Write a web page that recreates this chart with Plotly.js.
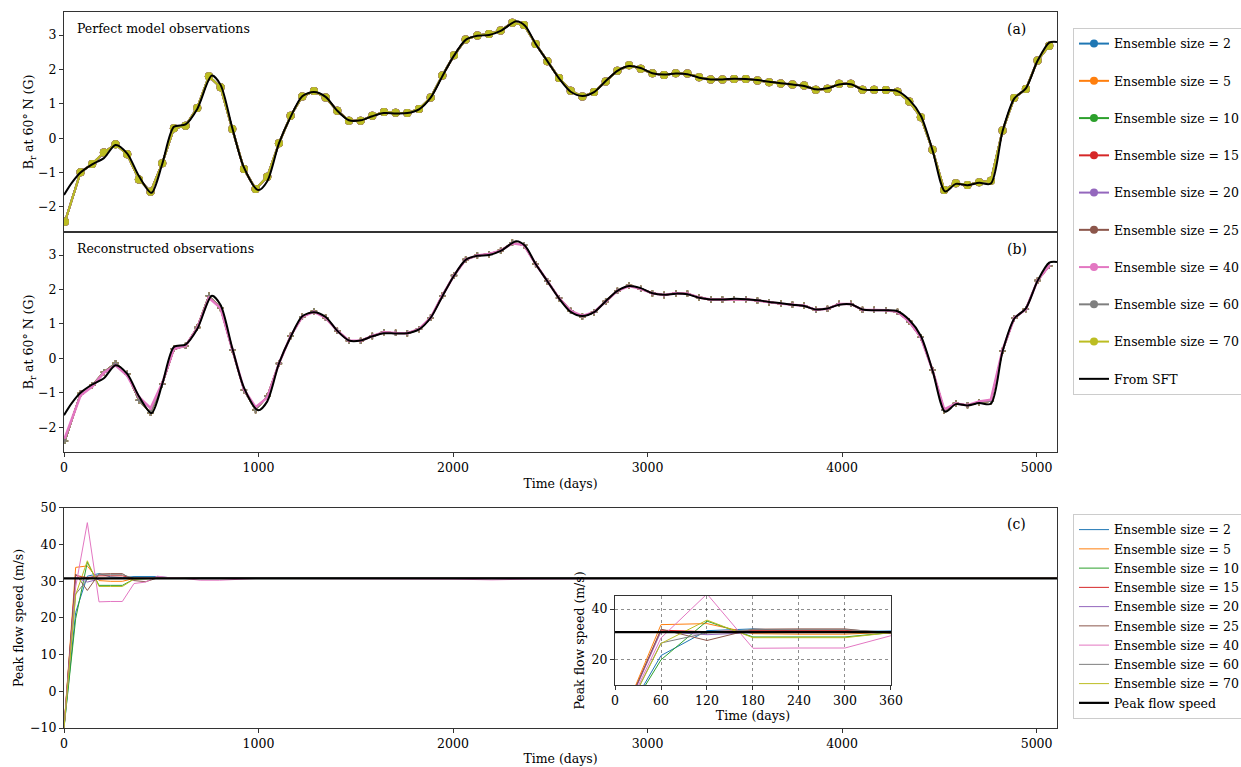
<!DOCTYPE html>
<html>
<head>
<meta charset="utf-8">
<script src="https://cdn.plot.ly/plotly-3.0.1.min.js"></script>
<style>html,body{margin:0;padding:0;background:#fff}#chart{width:1241px;height:767px}</style>
</head>
<body>
<div id="chart"></div>
<script>
// ---------- data ----------
const ensembleSizes = [2, 5, 10, 15, 20, 25, 40, 60, 70];
const ensembleColors = ['#1f77b4','#ff7f0e','#2ca02c','#d62728','#9467bd','#8c564b','#e377c2','#7f7f7f','#bcbd22'];

// observation times (days)
const obsDays = [5, 85, 145, 205, 265, 325, 385, 445, 505, 565,
  625, 685, 745, 805, 865, 925, 985, 1045, 1105, 1165,
  1225, 1285, 1345, 1405, 1465, 1525, 1585, 1645, 1705, 1765,
  1825, 1885, 1945, 2005, 2065, 2125, 2185, 2245, 2305, 2365,
  2425, 2485, 2545, 2605, 2665, 2725, 2785, 2845, 2905, 2965,
  3025, 3085, 3145, 3205, 3265, 3325, 3385, 3445, 3505, 3565,
  3625, 3685, 3745, 3805, 3865, 3925, 3985, 4045, 4105, 4165,
  4225, 4285, 4345, 4405, 4465, 4525, 4585, 4645, 4705, 4765,
  4825, 4885, 4945, 5005, 5065];

// (a) perfect model observations
const perfectObs = [-2.43, -0.99, -0.75, -0.42, -0.18, -0.47, -1.20, -1.56, -0.73, 0.29,
  0.36, 0.88, 1.80, 1.48, 0.27, -0.90, -1.48, -1.12, -0.15, 0.65,
  1.21, 1.37, 1.18, 0.80, 0.51, 0.51, 0.65, 0.76, 0.74, 0.73,
  0.85, 1.18, 1.82, 2.41, 2.87, 2.99, 3.03, 3.13, 3.36, 3.29,
  2.74, 2.24, 1.75, 1.38, 1.21, 1.34, 1.65, 1.96, 2.12, 2.02,
  1.89, 1.84, 1.89, 1.88, 1.77, 1.71, 1.71, 1.72, 1.72, 1.68,
  1.63, 1.59, 1.56, 1.53, 1.41, 1.44, 1.58, 1.58, 1.41, 1.41,
  1.40, 1.35, 1.07, 0.61, -0.34, -1.51, -1.31, -1.36, -1.28, -1.24,
  0.22, 1.17, 1.43, 2.26, 2.69];

// (b) reconstructed observations
const reconObs = [-2.40, -1.02, -0.78, -0.40, -0.14, -0.45, -1.22, -1.58, -0.75, 0.28,
  0.36, 0.90, 1.82, 1.46, 0.25, -0.92, -1.50, -1.10, -0.15, 0.65,
  1.21, 1.37, 1.18, 0.80, 0.51, 0.51, 0.65, 0.76, 0.74, 0.73,
  0.85, 1.18, 1.82, 2.41, 2.87, 2.99, 3.03, 3.13, 3.36, 3.29,
  2.74, 2.24, 1.75, 1.38, 1.21, 1.34, 1.65, 1.96, 2.12, 2.02,
  1.89, 1.84, 1.89, 1.88, 1.77, 1.71, 1.71, 1.72, 1.72, 1.68,
  1.63, 1.59, 1.56, 1.53, 1.41, 1.44, 1.58, 1.58, 1.41, 1.41,
  1.40, 1.35, 1.07, 0.61, -0.34, -1.51, -1.31, -1.36, -1.28, -1.24,
  0.22, 1.17, 1.43, 2.26, 2.69];
const reconObs40 = [-2.30, -1.08, -0.82, -0.42, -0.20, -0.50, -1.12, -1.45, -0.72, 0.28,
  0.36, 0.88, 1.76, 1.46, 0.27, -0.90, -1.42, -1.14, -0.15, 0.65,
  1.21, 1.35, 1.18, 0.80, 0.51, 0.51, 0.65, 0.76, 0.74, 0.73,
  0.85, 1.18, 1.82, 2.41, 2.87, 2.99, 3.03, 3.13, 3.34, 3.29,
  2.74, 2.24, 1.75, 1.38, 1.23, 1.34, 1.65, 1.96, 2.10, 2.02,
  1.89, 1.84, 1.89, 1.88, 1.77, 1.71, 1.71, 1.72, 1.72, 1.68,
  1.63, 1.59, 1.56, 1.53, 1.41, 1.44, 1.58, 1.58, 1.41, 1.41,
  1.40, 1.35, 1.07, 0.61, -0.34, -1.48, -1.31, -1.36, -1.25, -1.20,
  0.25, 1.17, 1.43, 2.26, 2.69];

// SFT reference curve
const sftDays = [0, 40, 85, 145, 205, 265, 325, 385, 450, 505,
  565, 625, 685, 760, 805, 865, 925, 998, 1045, 1105,
  1165, 1225, 1285, 1345, 1405, 1465, 1525, 1585, 1645, 1705,
  1765, 1825, 1885, 1945, 2005, 2065, 2125, 2185, 2245, 2325,
  2370, 2425, 2485, 2545, 2605, 2665, 2725, 2785, 2845, 2905,
  2965, 3025, 3085, 3145, 3205, 3265, 3325, 3385, 3445, 3505,
  3565, 3625, 3685, 3745, 3805, 3865, 3925, 3985, 4045, 4105,
  4165, 4225, 4285, 4345, 4405, 4465, 4530, 4585, 4645, 4705,
  4765, 4825, 4885, 4945, 5005, 5065, 5105];
const sftVals = [-1.65, -1.30, -1.00, -0.76, -0.58, -0.20, -0.45, -1.10, -1.59, -0.75,
  0.33, 0.40, 0.85, 1.82, 1.55, 0.30, -0.85, -1.51, -1.25, -0.15,
  0.62, 1.22, 1.34, 1.20, 0.80, 0.52, 0.52, 0.64, 0.73, 0.72,
  0.73, 0.84, 1.18, 1.80, 2.40, 2.86, 2.98, 3.00, 3.12, 3.40,
  3.27, 2.74, 2.24, 1.74, 1.35, 1.23, 1.34, 1.66, 1.96, 2.10,
  2.04, 1.89, 1.85, 1.88, 1.86, 1.76, 1.71, 1.71, 1.73, 1.72,
  1.69, 1.64, 1.60, 1.56, 1.52, 1.42, 1.45, 1.56, 1.57, 1.42,
  1.40, 1.40, 1.37, 1.12, 0.65, -0.35, -1.55, -1.33, -1.37, -1.30,
  -1.32, 0.20, 1.15, 1.45, 2.25, 2.78, 2.80];

// (c) peak flow speed (m/s)
const flowDays = [0, 60, 120, 180, 240, 300, 360, 420, 480, 540,
  600, 700, 800, 900, 1000, 2000, 2200, 2400, 3000, 4000, 5105];
const flowE2  = [-10, 21.5, 31.4, 32.1, 31.2, 31.0, 31.3, 31.3, 31.3, 31.0, 30.9, 31.0, 31.0, 30.8, 30.8, 30.8, 30.8, 30.8, 30.8, 30.8, 30.8];
const flowE5  = [-10, 33.8, 34.2, 30.2, 30.0, 30.0, 30.8, 30.8, 30.8, 30.8, 30.8, 30.8, 30.8, 30.8, 30.8, 30.8, 30.8, 30.8, 30.8, 30.8, 30.8];
const flowE10 = [-10, 19.8, 35.2, 28.9, 28.9, 28.9, 30.6, 30.8, 30.8, 30.8, 30.8, 30.8, 30.8, 30.8, 30.8, 30.8, 30.8, 30.8, 30.8, 30.8, 30.8];
const flowE15 = [-10, 31.6, 31.0, 31.5, 31.5, 31.5, 30.8, 30.8, 30.8, 30.8, 30.8, 30.8, 30.8, 30.8, 30.8, 30.8, 30.8, 30.8, 30.8, 30.8, 30.8];
const flowE20 = [-10, 31.0, 29.8, 30.6, 30.8, 30.8, 30.9, 30.8, 30.8, 30.8, 30.8, 30.8, 30.8, 30.8, 30.8, 30.8, 30.8, 30.8, 30.8, 30.8, 30.8];
const flowE25 = [-10, 32.0, 27.5, 32.0, 32.1, 32.1, 30.2, 29.9, 30.9, 30.8, 30.8, 30.8, 30.8, 30.8, 30.8, 30.8, 30.8, 30.8, 30.8, 30.8, 30.8];
const flowE40 = [-10, 28.5, 46.0, 24.4, 24.5, 24.5, 29.4, 29.8, 31.4, 31.0, 30.9, 30.3, 30.3, 30.6, 30.8, 30.6, 30.4, 30.6, 30.8, 30.8, 30.8];
const flowE60 = [-10, 26.5, 30.5, 31.8, 31.8, 31.8, 30.8, 30.8, 30.8, 30.8, 30.8, 30.8, 30.8, 30.8, 30.8, 30.8, 30.8, 30.8, 30.8, 30.8, 30.8];
const flowE70 = [-10, 26.3, 35.6, 28.6, 28.6, 28.6, 30.6, 30.8, 30.8, 30.8, 30.8, 30.8, 30.8, 30.8, 30.8, 30.8, 30.8, 30.8, 30.8, 30.8, 30.8];
const flowSeries = [flowE2, flowE5, flowE10, flowE15, flowE20, flowE25, flowE40, flowE60, flowE70];
const peakFlowDays = [0, 5105];
const peakFlowVals = [30.8, 30.8];

// ---------- traces ----------
const FONT = 'DejaVu Serif';
const traces = [];
ensembleSizes.forEach((n, i) => {
  traces.push({
    x: obsDays, y: perfectObs, xaxis: 'x', yaxis: 'y',
    mode: 'lines+markers', name: 'Ensemble size = ' + n,
    line: {color: ensembleColors[i], width: 2},
    marker: {color: ensembleColors[i], size: 8},
    legend: 'legend', legendgroup: 'g' + n, showlegend: true
  });
});
traces.push({x: sftDays, y: sftVals, xaxis: 'x', yaxis: 'y', mode: 'lines', name: 'From SFT',
  line: {color: '#000', width: 2, shape: 'spline', smoothing: 0.8}, legend: 'legend', legendgroup: 'gsft'});

// (b) draw grey markers and pink line last
const orderB = [0, 1, 2, 3, 4, 5, 8, 7, 6];
orderB.forEach(i => {
  traces.push({
    x: obsDays, y: (ensembleSizes[i] === 40 ? reconObs40 : reconObs), xaxis: 'x2', yaxis: 'y2',
    mode: 'lines+markers', showlegend: false, name: 'Ensemble size = ' + ensembleSizes[i],
    line: {color: ensembleColors[i], width: ensembleSizes[i] === 40 ? 2.5 : 1.5},
    marker: {color: ensembleColors[i], size: ensembleSizes[i] === 40 ? 2 : 4.5, symbol: 'cross-thin', line: {color: ensembleColors[i], width: 1.5}}
  });
});
traces.push({x: sftDays, y: sftVals, xaxis: 'x2', yaxis: 'y2', mode: 'lines', showlegend: false,
  line: {color: '#000', width: 2, shape: 'spline', smoothing: 0.8}});

// (c)
ensembleSizes.forEach((n, i) => {
  traces.push({x: flowDays, y: flowSeries[i], xaxis: 'x3', yaxis: 'y3', mode: 'lines',
    name: 'Ensemble size = ' + n, line: {color: ensembleColors[i], width: 1}, legend: 'legend2'});
});
traces.push({x: peakFlowDays, y: peakFlowVals, xaxis: 'x3', yaxis: 'y3', mode: 'lines',
  name: 'Peak flow speed', line: {color: '#000', width: 2.2}, legend: 'legend2'});
// inset
ensembleSizes.forEach((n, i) => {
  traces.push({x: flowDays, y: flowSeries[i], xaxis: 'x4', yaxis: 'y4', mode: 'lines', showlegend: false,
    line: {color: ensembleColors[i], width: 1}});
});
traces.push({x: peakFlowDays, y: peakFlowVals, xaxis: 'x4', yaxis: 'y4', mode: 'lines', showlegend: false,
  line: {color: '#000', width: 2.2}});

// ---------- layout ----------
const tickFont = {family: FONT, size: 12.5, color: '#000'};
const titleFont = {family: FONT, size: 12.5, color: '#000'};
const baseAxis = {showline: true, linecolor: '#333', linewidth: 1, mirror: true, showgrid: false,
  zeroline: false, ticks: 'outside', ticklen: 4, tickwidth: 1, tickcolor: '#333', tickfont: tickFont};
const xTicks = [0, 1000, 2000, 3000, 4000, 5000];

const layout = {
  width: 1241, height: 767,
  paper_bgcolor: '#fff', plot_bgcolor: '#fff',
  font: {family: FONT, size: 12.5, color: '#000'},
  margin: {l: 64, r: 184, t: 12, b: 39, autoexpand: false},
  xaxis: Object.assign({}, baseAxis, {domain: [0, 1], anchor: 'y', range: [0, 5105], showticklabels: false, ticks: '', tickvals: xTicks}),
  yaxis: Object.assign({}, baseAxis, {domain: [0.6927, 1], anchor: 'x', range: [-2.73, 3.67], tickvals: [-2, -1, 0, 1, 2, 3],
    title: {text: 'B<sub>r</sub> at 60° N (G)', font: titleFont, standoff: 0}}),
  xaxis2: Object.assign({}, baseAxis, {domain: [0, 1], anchor: 'y2', range: [0, 5105], tickvals: xTicks,
    title: {text: 'Time (days)', font: titleFont, standoff: 5}}),
  yaxis2: Object.assign({}, baseAxis, {domain: [0.3855, 0.6927], anchor: 'x2', range: [-2.72, 3.67], tickvals: [-2, -1, 0, 1, 2, 3],
    title: {text: 'B<sub>r</sub> at 60° N (G)', font: titleFont, standoff: 0}}),
  xaxis3: Object.assign({}, baseAxis, {domain: [0, 1], anchor: 'y3', range: [0, 5105], tickvals: xTicks,
    title: {text: 'Time (days)', font: titleFont, standoff: 4}}),
  yaxis3: Object.assign({}, baseAxis, {domain: [0, 0.3073], anchor: 'x3', range: [-10, 50], tickvals: [-10, 0, 10, 20, 30, 40, 50],
    title: {text: 'Peak flow speed (m/s)', font: titleFont, standoff: 3}}),
  xaxis4: Object.assign({}, baseAxis, {domain: [0.5549, 0.8328], anchor: 'y4', range: [0, 360], tickvals: [0, 60, 120, 180, 240, 300, 360],
    showgrid: true, gridcolor: 'rgba(0,0,0,0.55)', griddash: 'dot', gridwidth: 0.8,
    title: {text: 'Time (days)', font: titleFont, standoff: 2}}),
  yaxis4: Object.assign({}, baseAxis, {domain: [0.0601, 0.1844], anchor: 'x4', range: [9.8, 45.2], tickvals: [20, 40],
    showgrid: true, gridcolor: 'rgba(0,0,0,0.55)', griddash: 'dot', gridwidth: 0.8,
    title: {text: 'Peak flow speed (m/s)', font: titleFont, standoff: 4}}),
  legend: {x: 1.0161, y: 0.9777, xanchor: 'left', yanchor: 'top', bgcolor: '#fff', bordercolor: '#ccc', borderwidth: 1,
    font: {family: FONT, size: 12.5, color: '#000'}, tracegroupgap: 18, itemwidth: 30, traceorder: 'grouped'},
  legend2: {x: 1.0161, y: 0.2989, xanchor: 'left', yanchor: 'top', bgcolor: '#fff', bordercolor: '#ccc', borderwidth: 1,
    font: {family: FONT, size: 12.5, color: '#000'}, tracegroupgap: 0, itemwidth: 30},
  annotations: [
    {xref: 'paper', yref: 'paper', x: 0.011, y: 0.9763, xanchor: 'left', yanchor: 'middle', text: 'Perfect model observations', showarrow: false, font: {family: FONT, size: 12.5}},
    {xref: 'paper', yref: 'paper', x: 0.9597, y: 0.9763, xanchor: 'center', yanchor: 'middle', text: '(a)', showarrow: false, font: {family: FONT, size: 14}},
    {xref: 'paper', yref: 'paper', x: 0.011, y: 0.669, xanchor: 'left', yanchor: 'middle', text: 'Reconstructed observations', showarrow: false, font: {family: FONT, size: 12.5}},
    {xref: 'paper', yref: 'paper', x: 0.9597, y: 0.669, xanchor: 'center', yanchor: 'middle', text: '(b)', showarrow: false, font: {family: FONT, size: 14}},
    {xref: 'paper', yref: 'paper', x: 0.9597, y: 0.2849, xanchor: 'center', yanchor: 'middle', text: '(c)', showarrow: false, font: {family: FONT, size: 14}}
  ]
};

Plotly.newPlot('chart', traces, layout, {displayModeBar: false, staticPlot: true});
</script>
</body>
</html>
